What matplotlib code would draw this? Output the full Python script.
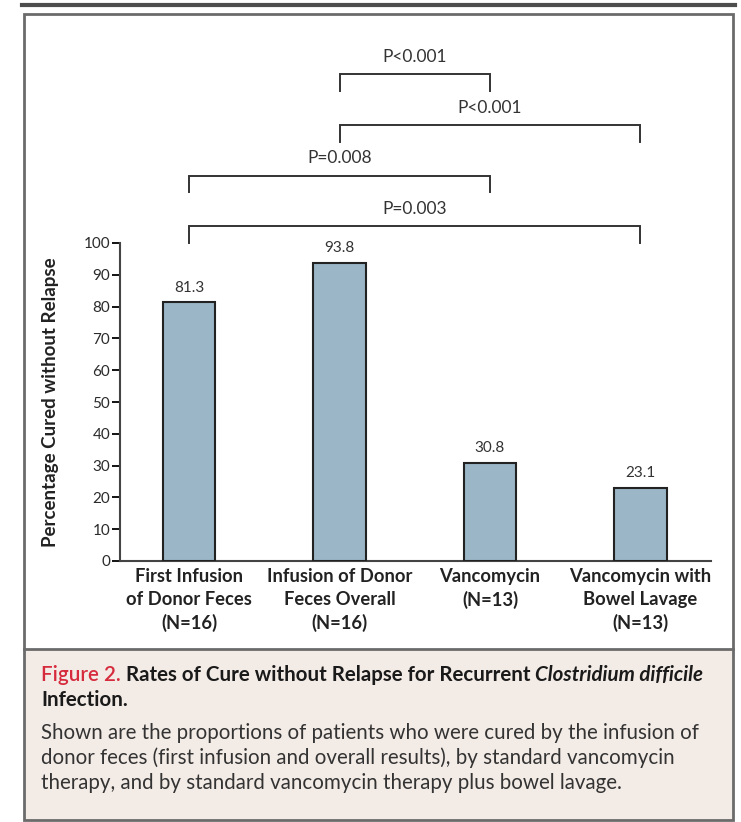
import matplotlib.pyplot as plt
from matplotlib.patches import Rectangle
from matplotlib.lines import Line2D

plt.rcParams['font.family'] = ['Lato', 'DejaVu Sans']

# cure rates per treatment group
groups = ["First Infusion\nof Donor Feces\n(N=16)",
          "Infusion of Donor\nFeces Overall\n(N=16)",
          "Vancomycin\n(N=13)\n",
          "Vancomycin with\nBowel Lavage\n(N=13)"]
cure_pct = [81.3, 93.8, 30.8, 23.1]
yticks = [0, 10, 20, 30, 40, 50, 60, 70, 80, 90, 100]

# pairwise comparisons (group index a, group index b, label), drawn bottom to top
comparisons = [(0, 3, "P=0.003"),
               (0, 2, "P=0.008"),
               (1, 3, "P<0.001"),
               (1, 2, "P<0.001")]

W, H = 741, 822
fig = plt.figure(figsize=(W / 100, H / 100), dpi=100)


def fx(px):
    return px / W


def fy(py):
    return 1 - py / H


# outer frame, caption panel and top rule
fig.patches.append(Rectangle((fx(24), fy(820)), fx(733) - fx(24), fy(649) - fy(820),
                             transform=fig.transFigure, facecolor="#f3ebe6", edgecolor="none", zorder=-1))
fig.patches.append(Rectangle((fx(24), fy(820)), fx(733) - fx(24), fy(14) - fy(820),
                             transform=fig.transFigure, facecolor="none", edgecolor="#6b6b6b", lw=2, zorder=5))
fig.lines.append(Line2D([fx(24), fx(733)], [fy(649), fy(649)], transform=fig.transFigure,
                        color="#6b6b6b", lw=2))
fig.lines.append(Line2D([fx(22), fx(735)], [fy(5), fy(5)], transform=fig.transFigure,
                        color="#4d4d4d", lw=3))

ax = fig.add_axes([fx(120), fy(561), fx(711) - fx(120), fy(243) - fy(561)])
ax.patch.set_alpha(0)
x = list(range(len(cure_pct)))
ax.bar(x, cure_pct, width=0.35, color="#9bb6c7", edgecolor="#222222", linewidth=1.5, zorder=3)
for xi, v in zip(x, cure_pct):
    ax.text(xi, v + 2.5, f"{v:.1f}", ha="center", va="bottom", fontsize=11, color="#333333")

ax.set_xlim(-0.46, 3.47)
ax.set_ylim(0, 100)
ax.set_yticks(yticks)
ax.tick_params(axis="y", direction="out", length=6, width=1.3, labelsize=11,
               labelcolor="#2b2b2b", pad=1)
ax.set_xticks(x)
ax.set_xticklabels(groups, fontsize=13.2, fontweight="bold", color="#222222", linespacing=1.42)
ax.tick_params(axis="x", length=0, pad=5)
for s in ["top", "right"]:
    ax.spines[s].set_visible(False)
for s in ["left", "bottom"]:
    ax.spines[s].set_linewidth(1.5)
    ax.spines[s].set_color("#444444")
ax.set_ylabel("Percentage Cured without Relapse", fontsize=13.5, fontweight="bold",
              color="#222222", va="center")
ax.yaxis.set_label_coords(-0.118, 0.5)

# significance brackets above the bars
level0, step, drop = 105.3, 15.9, 5.2
for k, (a, b, lab) in enumerate(comparisons):
    top = level0 + k * step
    ax.plot([a, a, b, b], [top - drop, top, top, top - drop], color="#333333", lw=1.4,
            clip_on=False, solid_joinstyle="miter")
    ax.text((a + b) / 2, top + 5.5, lab, ha="center", va="center", fontsize=12.5, color="#333333")

# caption with mixed styles on the first line
fig.canvas.draw()
renderer = fig.canvas.get_renderer()
cap_size = 14.8


def run(parts, x0, y0):
    xp = x0
    for txt, kw in parts:
        t = fig.text(fx(xp), fy(y0), txt, va="baseline", ha="left", fontsize=cap_size, **kw)
        xp += t.get_window_extent(renderer).width


run([("Figure 2. ", dict(color="#d62b3c", fontweight="semibold")),
     ("Rates of Cure without Relapse for Recurrent ", dict(color="#1a1a1a", fontweight="bold")),
     ("Clostridium difficile", dict(color="#1a1a1a", fontweight="bold", style="italic"))], 41, 681)
run([("Infection.", dict(color="#1a1a1a", fontweight="bold"))], 41, 706)
body = ["Shown are the proportions of patients who were cured by the infusion of",
        "donor feces (first infusion and overall results), by standard vancomycin",
        "therapy, and by standard vancomycin therapy plus bowel lavage."]
for i, line in enumerate(body):
    fig.text(fx(41), fy(739 + i * 25), line, va="baseline", ha="left", fontsize=cap_size,
             color="#333333")

fig.savefig("out.png", dpi=100, facecolor="white")
